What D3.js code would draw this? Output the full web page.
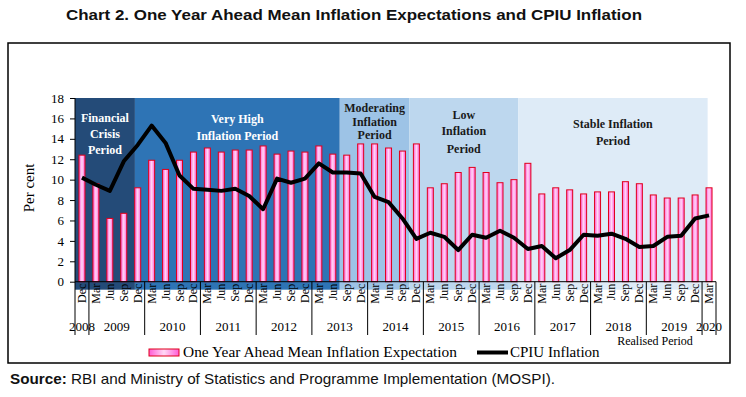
<!DOCTYPE html>
<html>
<head>
<meta charset="utf-8">
<script src="https://cdn.jsdelivr.net/npm/d3@7"></script>
<style>
  body { margin: 0; background: #fff; }
  svg { display: block; }
</style>
</head>
<body>
<div id="chart"></div>
<script>
// Quarterly one-year-ahead expectation (bars) against realised CPIU (line),
// with the five inflation "periods" shaded behind.

const quarters = [
  "Dec-08",
  "Mar-09", "Jun-09", "Sep-09", "Dec-09",
  "Mar-10", "Jun-10", "Sep-10", "Dec-10",
  "Mar-11", "Jun-11", "Sep-11", "Dec-11",
  "Mar-12", "Jun-12", "Sep-12", "Dec-12",
  "Mar-13", "Jun-13", "Sep-13", "Dec-13",
  "Mar-14", "Jun-14", "Sep-14", "Dec-14",
  "Mar-15", "Jun-15", "Sep-15", "Dec-15",
  "Mar-16", "Jun-16", "Sep-16", "Dec-16",
  "Mar-17", "Jun-17", "Sep-17", "Dec-17",
  "Mar-18", "Jun-18", "Sep-18", "Dec-18",
  "Mar-19", "Jun-19", "Sep-19", "Dec-19",
  "Mar-20"
];

const expectation = [
  12.4,
  9.6, 6.2, 6.7, 9.2,
  11.9, 11.0, 11.9, 12.7,
  13.1, 12.7, 12.9, 12.9,
  13.3, 12.5, 12.8, 12.7,
  13.3, 12.5, 12.4, 13.5,
  13.5, 13.1, 12.8, 13.5,
  9.2, 9.6, 10.7, 11.2,
  10.7, 9.7, 10.0, 11.6,
  8.6, 9.2, 9.0, 8.6,
  8.8, 8.8, 9.8, 9.6,
  8.5, 8.2, 8.2, 8.5,
  9.2
];

const cpiu = [
  10.2,
  9.5, 8.9, 11.8, 13.4,
  15.3, 13.6, 10.4, 9.1,
  9.0, 8.9, 9.1, 8.4,
  7.1, 10.1, 9.7, 10.1,
  11.6, 10.7, 10.7, 10.6,
  8.3, 7.8, 6.2, 4.2,
  4.8, 4.4, 3.1, 4.6,
  4.3, 5.0, 4.3, 3.2,
  3.5, 2.3, 3.1, 4.6,
  4.5, 4.7, 4.2, 3.4,
  3.5, 4.4, 4.5, 6.2,
  6.5
];

const yTicks = [0, 2, 4, 6, 8, 10, 12, 14, 16, 18];

// period spans in quarter-index units (0 = left edge of Dec-08)
const periodNames = [
  ["Financial", "Crisis", "Period"],
  ["Very  High", "Inflation Period"],
  ["Moderating", "Inflation", "Period"],
  ["Low", "Inflation", "Period"],
  ["Stable Inflation", "Period"]
];
const periodStart = [0, 4.3, 19, 24, 31.8];
const periodEnd = [4.3, 19, 24, 31.8, 45.4];

// ---- layout / styling ----
const W = 746, H = 397;
const m = { left: 75, right: 716, top: 98, bottom: 281.7 };
const periodFill = ["#244b78", "#2e74b5", "#9dc3e6", "#bdd7ee", "#deebf7"];
const periodInk = ["#fff", "#fff", "#1a1a1a", "#1a1a1a", "#1a1a1a"];
const periodBaselines = [[122, 138, 154], [123, 140], [112, 126, 139], [119, 135, 153], [128, 145]];
const serif = "'Liberation Serif', 'Times New Roman', serif";
const sans = "'Liberation Sans', Arial, sans-serif";

const svg = d3.select("#chart").append("svg")
  .attr("width", W).attr("height", H).attr("viewBox", `0 0 ${W} ${H}`);

const defs = svg.append("defs");
const grad = defs.append("linearGradient").attr("id", "barGrad")
  .attr("x1", "0").attr("y1", "0").attr("x2", "1").attr("y2", "0");
grad.append("stop").attr("offset", "0%").attr("stop-color", "#ff5cd6");
grad.append("stop").attr("offset", "50%").attr("stop-color", "#ffd8f6");
grad.append("stop").attr("offset", "100%").attr("stop-color", "#ff5cd6");

// title
svg.append("text").attr("x", 66).attr("y", 20)
  .attr("font-family", sans).attr("font-weight", "bold").attr("font-size", 15.5)
  .attr("fill", "#111")
  .attr("textLength", 576).attr("lengthAdjust", "spacingAndGlyphs")
  .text("Chart 2. One Year Ahead Mean Inflation Expectations and CPIU Inflation");

// frame
svg.append("rect").attr("x", 8).attr("y", 43).attr("width", 722).attr("height", 320)
  .attr("fill", "none").attr("stroke", "#000").attr("stroke-width", 1.5);

const x = d3.scaleBand().domain(quarters).range([m.left, m.right])
  .paddingInner(0.57).paddingOuter(0.285);
const step = x.step();
const xi = d3.scaleLinear().domain([0, quarters.length]).range([m.left, m.left + step * quarters.length]);
const y = d3.scaleLinear().domain([0, 18]).range([m.bottom, m.top]);

// period backgrounds
const pg = svg.append("g");
periodNames.forEach((lines, i) => {
  const x0 = xi(periodStart[i]), x1 = xi(periodEnd[i]);
  pg.append("rect").attr("x", x0).attr("y", m.top).attr("width", x1 - x0)
    .attr("height", m.bottom - m.top + 8).attr("fill", periodFill[i]);
});

// bars
svg.append("g").selectAll("rect").data(quarters).join("rect")
  .attr("x", (d) => x(d)).attr("width", x.bandwidth())
  .attr("y", (d, i) => y(expectation[i])).attr("height", (d, i) => y(0) - y(expectation[i]))
  .attr("fill", "url(#barGrad)").attr("stroke", "#e0001a").attr("stroke-width", 1);

// CPIU line
svg.append("path").datum(cpiu)
  .attr("fill", "none").attr("stroke", "#000").attr("stroke-width", 4).attr("stroke-linejoin", "round")
  .attr("d", d3.line().x((d, i) => x(quarters[i]) + x.bandwidth() / 2).y((d) => y(d)));

// period labels
const lg = svg.append("g").attr("font-family", serif).attr("font-weight", "bold")
  .attr("font-size", 12).attr("text-anchor", "middle").style("white-space", "pre");
periodNames.forEach((lines, i) => {
  const cx = (xi(periodStart[i]) + xi(periodEnd[i])) / 2;
  lines.forEach((t, j) => {
    lg.append("text").attr("x", cx).attr("y", periodBaselines[i][j])
      .attr("fill", periodInk[i]).text(t);
  });
});

// y axis
const yAxis = svg.append("g").attr("transform", `translate(${m.left},0)`)
  .call(d3.axisLeft(y).tickValues(yTicks).tickSize(5).tickPadding(6));
yAxis.select(".domain").remove();
yAxis.selectAll("line").attr("stroke", "#000");
yAxis.selectAll("text").attr("font-family", serif).attr("font-size", 13).attr("fill", "#000");
svg.append("line").attr("x1", m.left).attr("x2", m.left).attr("y1", m.top).attr("y2", 335)
  .attr("stroke", "#000").attr("stroke-width", 1);

svg.append("text").attr("transform", `translate(34,188) rotate(-90)`)
  .attr("text-anchor", "middle").attr("font-family", serif).attr("font-size", 15)
  .text("Per cent");

// x axis
svg.append("line").attr("x1", m.left).attr("x2", m.right).attr("y1", y(0)).attr("y2", y(0))
  .attr("stroke", "#000").attr("stroke-width", 1);

svg.append("g").attr("font-family", serif).attr("font-size", 12).attr("text-anchor", "end")
  .selectAll("text").data(quarters).join("text")
  .attr("transform", (d) => `translate(${x(d) + x.bandwidth() / 2 + 4},${y(0) + 2}) rotate(-90)`)
  .text((d) => d.split("-")[0]);

// year groups
const years = d3.groups(quarters.map((q, i) => ({ q, i })), (d) => "20" + d.q.split("-")[1]);
const yg = svg.append("g").attr("font-family", serif).attr("font-size", 13).attr("text-anchor", "middle");
years.forEach(([yr, qs]) => {
  const a = qs[0].i, b = qs[qs.length - 1].i + 1;
  yg.append("text").attr("x", (xi(a) + xi(b)) / 2).attr("y", 331).text(yr);
  yg.append("line").attr("x1", xi(b)).attr("x2", xi(b)).attr("y1", y(0)).attr("y2", 335)
    .attr("stroke", "#000");
});

svg.append("text").attr("x", 655).attr("y", 345).attr("text-anchor", "middle")
  .attr("font-family", serif).attr("font-size", 12).text("Realised Period");

// legend
const leg = svg.append("g").attr("font-family", serif).attr("font-size", 15);
leg.append("rect").attr("x", 149).attr("y", 349).attr("width", 30).attr("height", 7)
  .attr("fill", "url(#barGrad)").attr("stroke", "#e0001a");
leg.append("text").attr("x", 183).attr("y", 357)
  .attr("textLength", 274).attr("lengthAdjust", "spacingAndGlyphs")
  .text("One Year Ahead Mean Inflation Expectation");
leg.append("line").attr("x1", 477).attr("x2", 508).attr("y1", 352.5).attr("y2", 352.5)
  .attr("stroke", "#000").attr("stroke-width", 4);
leg.append("text").attr("x", 510).attr("y", 357).text("CPIU Inflation");

// source
const src = svg.append("text").attr("x", 10).attr("y", 384)
  .attr("font-family", sans).attr("font-size", 15).attr("fill", "#111")
  .attr("textLength", 545).attr("lengthAdjust", "spacingAndGlyphs");
src.append("tspan").attr("font-weight", "bold").text("Source:");
src.append("tspan").text(" RBI and Ministry of Statistics and Programme Implementation (MOSPI).");
</script>
</body>
</html>
